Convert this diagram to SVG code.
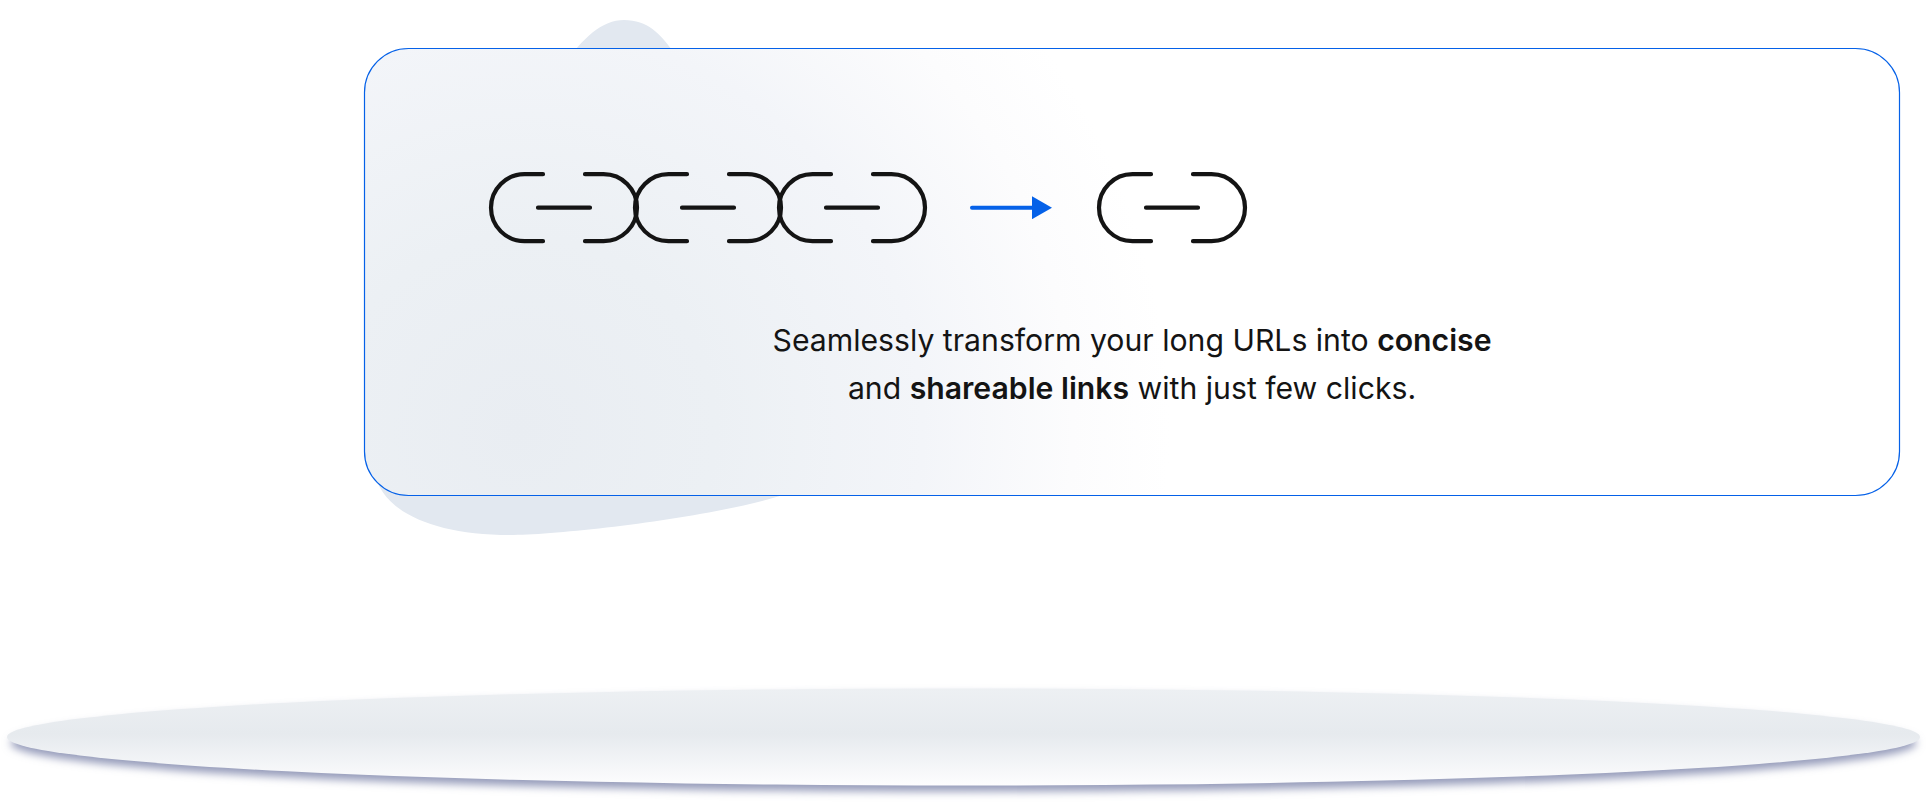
<svg xmlns="http://www.w3.org/2000/svg" width="1928" height="802" viewBox="0 0 1928 802">
<style>
.ln{fill:none;stroke:#141414;stroke-width:4.2;stroke-linecap:round}
.t{font-family:"Inter","Liberation Sans",sans-serif;font-size:30.2px;fill:#141414;text-anchor:middle}
.b{font-weight:600}
</style>
<defs>
<path id="blobShape" d="M624,20 C648,20 660,34 672,50 C760,150 930,330 900,400 C880,450 815,480 783,495 C710,518 560,535 510,535 C430,535 380,510 374,470 C360,400 420,300 480,220 C530,130 570,20 624,20 Z"/>
<path id="link" d="M52,-33.5 H33.5 A33.5,33.5 0 0 0 33.5,33.5 H52 M94,-33.5 H112.5 A33.5,33.5 0 0 1 112.5,33.5 H94 M47,0 H99"/>
<radialGradient id="cardFill" gradientUnits="userSpaceOnUse" cx="520" cy="430" r="650">
<stop offset="0" stop-color="#e9edf2"/>
<stop offset="0.3" stop-color="#ecf0f4"/>
<stop offset="0.62" stop-color="#f3f5f9"/>
<stop offset="0.85" stop-color="#fcfcfd"/>
<stop offset="1" stop-color="#ffffff"/>
</radialGradient>
<filter id="shadowBlur" x="-2%" y="-20%" width="104%" height="140%"><feGaussianBlur stdDeviation="4.5"/></filter>
<linearGradient id="ground" x1="0" y1="0" x2="0" y2="1">
<stop offset="0" stop-color="#edf0f3"/>
<stop offset="0.47" stop-color="#e6eaee"/>
<stop offset="1" stop-color="#fdfdfe"/>
</linearGradient>
<marker id="head" markerUnits="userSpaceOnUse" markerWidth="20" markerHeight="23" refX="0" refY="11.5" orient="auto"><path d="M0,0 L20,11.5 L0,23 Z" fill="#0561e8"/></marker>
</defs>
<rect width="1928" height="802" fill="#ffffff"/>
<g id="blob"><use href="#blobShape" fill="#e2e8f0"/></g>
<g id="ground-disc">
<ellipse cx="963.5" cy="743" rx="953" ry="48.5" fill="#959bba" filter="url(#shadowBlur)"/>
<ellipse cx="963.5" cy="737" rx="956.5" ry="48.5" fill="url(#ground)"/>
</g>
<g id="card">
<rect x="364.5" y="48.5" width="1535" height="447" rx="44" fill="url(#cardFill)" stroke="#0561e8" stroke-width="1.2"/>
</g>
<g id="long-link">
<use href="#link" class="ln" x="491" y="207.7"/>
<use href="#link" class="ln" x="635" y="207.7"/>
<use href="#link" class="ln" x="779" y="207.7"/>
</g>
<g id="connectors">
<line x1="972" y1="207.7" x2="1032" y2="207.7" stroke="#0561e8" stroke-width="4" stroke-linecap="round" marker-end="url(#head)"/>
</g>
<g id="short-link"><use href="#link" class="ln" x="1099" y="207.7"/></g>
<g id="caption">
<text class="t" x="1132" y="351">Seamlessly transform your long URLs into <tspan class="b">concise</tspan></text>
<text class="t" x="1132" y="399">and <tspan class="b">shareable links</tspan> with just few clicks.</text>
</g>
</svg>
